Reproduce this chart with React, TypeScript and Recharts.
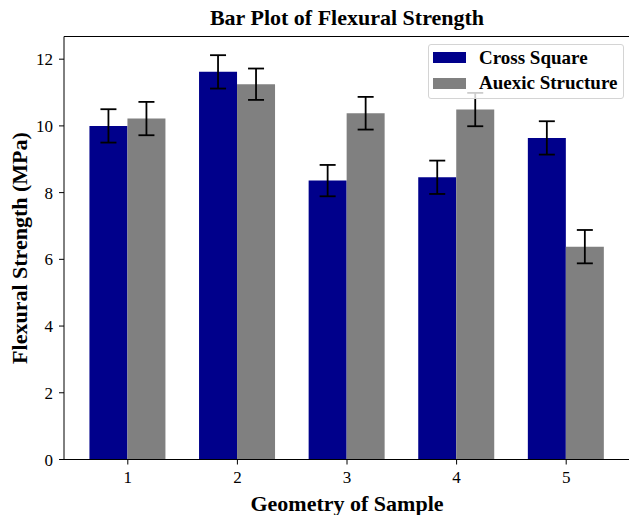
import React from 'react';
import { BarChart, Bar, XAxis, YAxis, ErrorBar, Legend, ReferenceLine } from 'recharts';

const categories = ['1', '2', '3', '4', '5'];
const crossSquare = [10.0, 11.62, 8.36, 8.46, 9.64];
const crossSquareErr = [0.5, 0.5, 0.47, 0.5, 0.5];
const auxetic = [10.22, 11.25, 10.38, 10.49, 6.38];
const auxeticErr = [0.5, 0.47, 0.49, 0.5, 0.5];
const yTicks = [0, 2, 4, 6, 8, 10, 12];
const seriesNames = ['Cross Square', 'Auexic Structure'];
const yMax = 12.68;

const data = categories.map((c, i) => ({
  geometry: c,
  cs: crossSquare[i],
  csErr: crossSquareErr[i],
  ax: auxetic[i],
  axErr: auxeticErr[i],
}));

const FONT = '"Liberation Serif", "Times New Roman", serif';

const renderLegend = (props: any) => {
  const payload = [...(props.payload || [])].sort(
    (a: any, b: any) => seriesNames.indexOf(a.value) - seriesNames.indexOf(b.value)
  );
  return (
    <div
      style={{
        border: '1px solid #d4d4d4',
        borderRadius: 3,
        background: 'rgba(255,255,255,0.8)',
        padding: '0px 4px 0px 4px',
        fontFamily: FONT,
        fontWeight: 'bold',
        fontSize: 19,
        color: '#000',
        boxSizing: 'border-box',
        width: 196,
        height: 55,
      }}
    >
      {payload.map((e: any, i: number) => (
        <div key={i} style={{ display: 'flex', alignItems: 'center', height: 25.5, whiteSpace: 'nowrap' }}>
          <span style={{ display: 'inline-block', width: 33, height: 11, background: e.color, marginRight: 13, flex: 'none' }} />
          <span>{e.value}</span>
        </div>
      ))}
    </div>
  );
};

export default function App() {
  return (
    <div style={{ position: 'absolute', left: 0, top: 0, width: 629, height: 515, overflow: 'hidden', background: '#fff' }}>
      <div
        style={{
          position: 'absolute',
          left: 64,
          width: 566,
          top: 6,
          textAlign: 'center',
          fontFamily: FONT,
          fontWeight: 'bold',
          fontSize: 22,
          color: '#000',
          lineHeight: '24px',
        }}
      >
        Bar Plot of Flexural Strength
      </div>
      <BarChart
        width={640}
        height={515}
        data={data}
        margin={{ top: 36.5, right: 10, bottom: 0, left: 0 }}
        barCategoryGap="15%"
        barGap={0}
        style={{ fontFamily: FONT }}
      >
        <ReferenceLine y={yMax} stroke="#000" strokeWidth={1} ifOverflow="extendDomain" />
        <XAxis
          dataKey="geometry"
          height={55.5}
          padding={{ left: 9, right: 9 }}
          tick={{ fontSize: 17, fill: '#000', fontFamily: FONT }}
          tickLine={{ stroke: '#000' }}
          axisLine={{ stroke: '#000' }}
          tickSize={5}
          tickMargin={6}
          label={{
            value: 'Geometry of Sample',
            position: 'insideBottom',
            offset: 4,
            style: { fontSize: 22, fontWeight: 'bold', fill: '#000', fontFamily: FONT },
          }}
        />
        <YAxis
          width={64}
          domain={[0, yMax]}
          ticks={yTicks}
          allowDataOverflow
          tick={{ fontSize: 17, fill: '#000', fontFamily: FONT }}
          tickLine={{ stroke: '#000' }}
          axisLine={{ stroke: '#000' }}
          tickSize={5}
          tickMargin={6}
          label={{
            value: 'Flexural Strength (MPa)',
            angle: -90,
            position: 'insideLeft',
            offset: 19,
            style: { fontSize: 22, fontWeight: 'bold', fill: '#000', fontFamily: FONT, textAnchor: 'middle' },
          }}
        />
        <Legend
          layout="horizontal"
          verticalAlign="middle"
          align="center"
          content={renderLegend}
          wrapperStyle={{ position: 'absolute', left: 428, top: 44, width: 196, height: 55 }}
        />
        <Bar dataKey="cs" name={seriesNames[0]} fill="#00008b" isAnimationActive={false}>
          <ErrorBar dataKey="csErr" width={8} stroke="#000" strokeWidth={1.8} direction="y" />
        </Bar>
        <Bar dataKey="ax" name={seriesNames[1]} fill="#808080" isAnimationActive={false}>
          <ErrorBar dataKey="axErr" width={8} stroke="#000" strokeWidth={1.8} direction="y" />
        </Bar>
      </BarChart>
    </div>
  );
}
